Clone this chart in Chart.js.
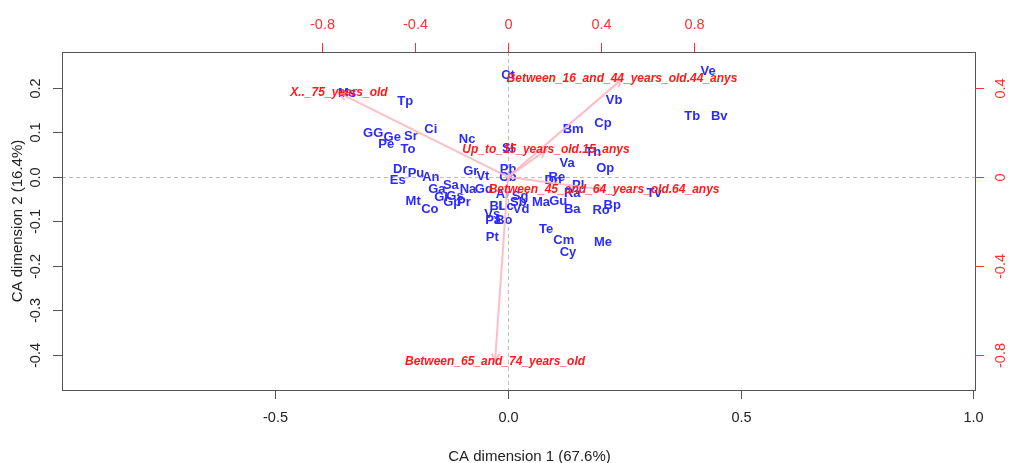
<!DOCTYPE html>
<html>
<head>
<meta charset="utf-8">
<script src="https://cdn.jsdelivr.net/npm/chart.js@4.4.1/dist/chart.umd.min.js"></script>
<style>
  html, body { margin: 0; padding: 0; background: #fff; }
  #wrap { width: 1013px; height: 463px; }
</style>
</head>
<body>
<div id="wrap"><canvas id="ca-chart"></canvas></div>
<script>
// Row points (blue labels), CA dimension 1 / dimension 2
var rowLabels = ["Ct", "Ve", "Ms", "Tp", "Vb", "Tb", "Bv", "Cp", "Ci", "Bm", "GG", "Ge", "Sr", "Nc", "Pe", "To",
  "Sl", "Th", "Va", "Op", "Dr", "Pb", "Gr", "Vt", "Pu", "Es", "An", "Cb", "Re", "Dn", "Pl", "Tv", "Ra", "Ga",
  "Sa", "Na", "Gd", "Gl", "Gs", "Gp", "Pr", "Mt", "Co", "Ar", "Sg", "Sb", "Lc", "Vd", "Ma", "Gu", "Ba", "Ro",
  "Bp", "Bl", "Vs", "Pa", "Bo", "Te", "Pt", "Cm", "Me", "Cy"];
var rowX = [0.000, 0.430, -0.346, -0.221, 0.228, 0.396, 0.454, 0.204, -0.166, 0.140, -0.290, -0.249, -0.209, -0.088, -0.262, -0.215,
  0.000, 0.183, 0.127, 0.209, -0.232, 0.000, -0.080, -0.054, -0.198, -0.237, -0.166, 0.000, 0.105, 0.097, 0.151, 0.314, 0.138, -0.153,
  -0.123, -0.086, -0.052, -0.144, -0.114, -0.120, -0.095, -0.204, -0.168, -0.011, 0.026, 0.022, -0.004, 0.028, 0.071, 0.108, 0.138, 0.200,
  0.224, -0.026, -0.034, -0.032, -0.009, 0.082, -0.034, 0.120, 0.204, 0.129];
var rowY = [0.229, 0.238, 0.187, 0.169, 0.171, 0.137, 0.137, 0.121, 0.108, 0.106, 0.097, 0.088, 0.092, 0.085, 0.074, 0.063,
  0.065, 0.056, 0.031, 0.020, 0.016, 0.018, 0.013, 0.002, 0.007, -0.007, 0.000, 0.000, 0.000, -0.007, -0.020, -0.036, -0.038, -0.029,
  -0.020, -0.027, -0.027, -0.045, -0.043, -0.058, -0.058, -0.056, -0.072, -0.040, -0.043, -0.058, -0.067, -0.072, -0.058, -0.056, -0.074, -0.076,
  -0.063, -0.067, -0.085, -0.097, -0.097, -0.117, -0.137, -0.142, -0.148, -0.169];

// Column points (red arrows), read on the top / right axes
var colLabels = ["X.._75_years_old", "Between_16_and_44_years_old.44_anys", "Up_to_15_years_old.15_anys",
  "Between_45_and_64_years_old.64_anys", "Between_65_and_74_years_old"];
var colX = [-0.727, 0.490, 0.163, 0.413, -0.056];
var colY = [0.378, 0.440, 0.121, -0.058, -0.831];

// Tick labels
var xTicks = [-0.5, 0.0, 0.5, 1.0];
var yTicks = [-0.4, -0.3, -0.2, -0.1, 0.0, 0.1, 0.2];
var x2Ticks = [-0.8, -0.4, 0, 0.4, 0.8];
var y2Ticks = [-0.8, -0.4, 0, 0.4];

var xTitle = "CA dimension 1 (67.6%)";
var yTitle = "CA dimension 2 (16.4%)";

var FONT = "'Liberation Sans', Arial, sans-serif";

var datasets = [{
  label: "rows",
  data: rowX.map(function (v, i) { return { x: v, y: rowY[i] }; }),
  xAxisID: "x",
  yAxisID: "y",
  pointRadius: 0,
  showLine: false
}];
colLabels.forEach(function (name, i) {
  datasets.push({
    label: name,
    data: [{ x: 0, y: 0 }, { x: colX[i], y: colY[i] }],
    xAxisID: "x2",
    yAxisID: "y2",
    showLine: true,
    borderColor: "rgba(255, 182, 193, 0.9)",
    borderWidth: 2,
    pointRadius: 0
  });
});

var caPlot = {
  id: "caPlot",
  beforeDatasetsDraw: function (chart) {
    var ctx = chart.ctx, a = chart.chartArea, s = chart.scales;
    ctx.save();
    // dashed zero lines
    ctx.strokeStyle = "#bdbdbd";
    ctx.lineWidth = 1;
    ctx.setLineDash([4, 3]);
    var x0 = Math.round(s.x.getPixelForValue(0)) + 0.5;
    var y0 = Math.round(s.y.getPixelForValue(0)) + 0.5;
    ctx.beginPath();
    ctx.moveTo(x0, a.top); ctx.lineTo(x0, a.bottom);
    ctx.moveTo(a.left, y0); ctx.lineTo(a.right, y0);
    ctx.stroke();
    ctx.setLineDash([]);
    // row labels
    ctx.font = "bold 13px " + FONT;
    ctx.fillStyle = "#2b2bff";
    ctx.textAlign = "center";
    ctx.textBaseline = "middle";
    chart.getDatasetMeta(0).data.forEach(function (pt, i) {
      ctx.fillText(rowLabels[i], pt.x, pt.y);
    });
    ctx.restore();
  },
  afterDatasetsDraw: function (chart) {
    var ctx = chart.ctx;
    ctx.save();
    ctx.strokeStyle = "rgba(255, 182, 193, 0.9)";
    ctx.lineWidth = 2;
    for (var i = 0; i < colLabels.length; i++) {
      var pts = chart.getDatasetMeta(i + 1).data;
      var ang = Math.atan2(pts[1].y - pts[0].y, pts[1].x - pts[0].x);
      ctx.beginPath();
      ctx.moveTo(pts[1].x - 9 * Math.cos(ang - 0.45), pts[1].y - 9 * Math.sin(ang - 0.45));
      ctx.lineTo(pts[1].x, pts[1].y);
      ctx.lineTo(pts[1].x - 9 * Math.cos(ang + 0.45), pts[1].y - 9 * Math.sin(ang + 0.45));
      ctx.stroke();
    }
    ctx.font = "italic bold 12px " + FONT;
    ctx.fillStyle = "#ff1a1a";
    ctx.textAlign = "center";
    ctx.textBaseline = "middle";
    for (var j = 0; j < colLabels.length; j++) {
      var tip = chart.getDatasetMeta(j + 1).data[1];
      ctx.fillText(colLabels[j], tip.x, tip.y);
    }
    ctx.restore();
  },
  afterDraw: function (chart) {
    var ctx = chart.ctx, a = chart.chartArea, s = chart.scales;
    ctx.save();
    ctx.lineWidth = 1;
    // box
    ctx.strokeStyle = "#555";
    ctx.strokeRect(Math.round(a.left) + 0.5, Math.round(a.top) + 0.5,
      Math.round(a.right - a.left), Math.round(a.bottom - a.top));
    ctx.font = "14.5px " + FONT;
    ctx.textAlign = "center";
    ctx.textBaseline = "middle";
    // bottom axis
    ctx.fillStyle = "#222";
    xTicks.forEach(function (v) {
      var px = Math.round(s.x.getPixelForValue(v)) + 0.5;
      ctx.beginPath(); ctx.moveTo(px, a.bottom); ctx.lineTo(px, a.bottom + 9); ctx.stroke();
      ctx.fillText(v.toFixed(1), px, a.bottom + 28);
    });
    // left axis
    yTicks.forEach(function (v) {
      var py = Math.round(s.y.getPixelForValue(v)) + 0.5;
      ctx.beginPath(); ctx.moveTo(a.left, py); ctx.lineTo(a.left - 9, py); ctx.stroke();
      ctx.save();
      ctx.translate(a.left - 26, py);
      ctx.rotate(-Math.PI / 2);
      ctx.fillText(v.toFixed(1), 0, 0);
      ctx.restore();
    });
    // top axis (red)
    ctx.strokeStyle = "#ff3030";
    ctx.fillStyle = "#ff3030";
    x2Ticks.forEach(function (v) {
      var px = Math.round(s.x2.getPixelForValue(v)) + 0.5;
      ctx.beginPath(); ctx.moveTo(px, a.top); ctx.lineTo(px, a.top - 9); ctx.stroke();
      ctx.fillText(String(v), px, a.top - 27);
    });
    // right axis (red)
    y2Ticks.forEach(function (v) {
      var py = Math.round(s.y2.getPixelForValue(v)) + 0.5;
      ctx.beginPath(); ctx.moveTo(a.right, py); ctx.lineTo(a.right + 9, py); ctx.stroke();
      ctx.save();
      ctx.translate(a.right + 26, py);
      ctx.rotate(-Math.PI / 2);
      ctx.fillText(String(v), 0, 0);
      ctx.restore();
    });
    // axis titles
    ctx.font = "15px " + FONT;
    ctx.fillStyle = "#222";
    ctx.fillText(xTitle, (a.left + a.right) / 2 + 11, a.bottom + 67);
    ctx.save();
    ctx.translate(18, (a.top + a.bottom) / 2);
    ctx.rotate(-Math.PI / 2);
    ctx.fillText(yTitle, 0, 0);
    ctx.restore();
    ctx.restore();
  }
};

var ctx = document.getElementById("ca-chart").getContext("2d");
var caChart = new Chart(ctx, {
  type: "scatter",
  data: { datasets: datasets },
  plugins: [caPlot],
  options: {
    responsive: true,
    maintainAspectRatio: false,
    animation: false,
    layout: { padding: { left: 62, right: 38, top: 52, bottom: 73 } },
    plugins: { legend: { display: false }, tooltip: { enabled: false } },
    scales: {
      x: { type: "linear", display: false, min: -0.959, max: 1.004 },
      y: { type: "linear", display: false, min: -0.479, max: 0.281 },
      x2: { type: "linear", display: false, min: -1.918, max: 2.008 },
      y2: { type: "linear", display: false, min: -0.958, max: 0.562 }
    }
  }
});
</script>
</body>
</html>
